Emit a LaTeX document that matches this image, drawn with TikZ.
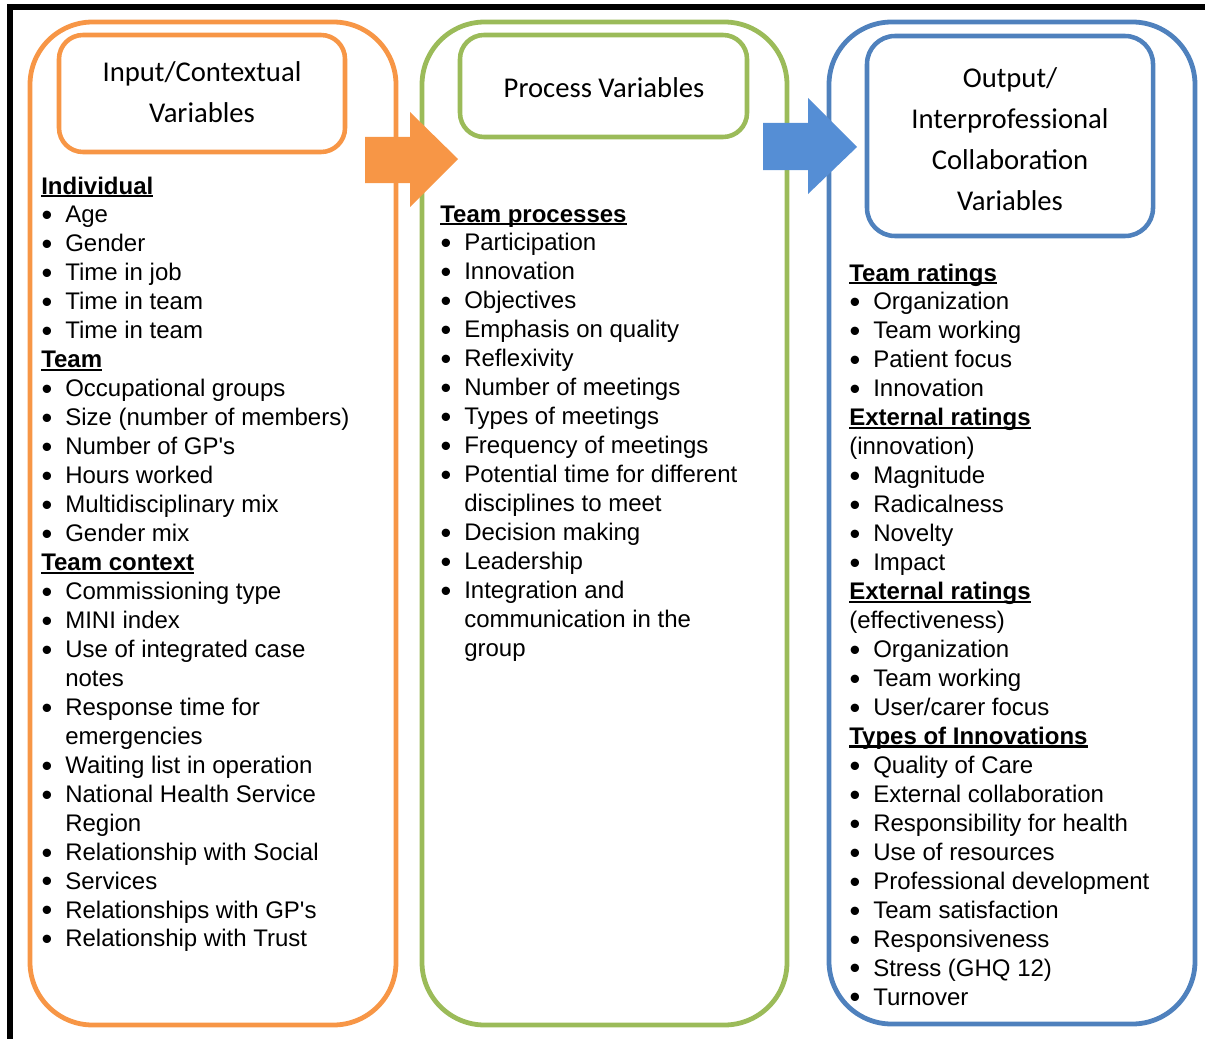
\documentclass[tikz,border=0pt]{standalone}
\usepackage{fontspec}
\setmainfont{Liberation Sans}
\newfontfamily\titlefont{Carlito}

\definecolor{orng}{HTML}{F79646}
\definecolor{grn}{HTML}{9BBB59}
\definecolor{blu}{HTML}{4F81BD}
\definecolor{bluarrow}{HTML}{558ED5}

% list helpers
\newcommand\hdr[1]{\leavevmode\setbox0\hbox{\bfseries #1}\rlap{\rule[-2.4pt]{\wd0}{1.6pt}}\box0}
\newcommand\itm[1]{\leavevmode\makebox[18pt][l]{\hspace*{0.2pt}\raisebox{-2.2pt}{\fontsize{23}{0}\selectfont\textbullet}}#1}
\newcommand\cont[1]{\leavevmode\hspace*{18pt}#1}
\newcommand\ap{\textquotesingle}
\newcommand\listfont{\fontsize{18}{21.72}\selectfont\lineskiplimit=-20pt\parindent=0pt}

\tikzset{
  x=0.75pt, y=-0.75pt,
  outerbox/.style={line width=3.6pt, rounded corners=47pt},
  innerbox/.style={line width=3.4pt, rounded corners=18pt},
  titletext/.style={align=center, inner sep=0pt,
    font=\titlefont\fontsize{21.5}{30.75}\selectfont},
  coltext/.style={anchor=base west, inner sep=0pt},
}

\begin{document}
\begin{tikzpicture}
\useasboundingbox (0,0) rectangle (1205,1038);

% frame
\draw[line width=3.8pt, line join=miter] (10,1040) -- (10,7) -- (1207,7);

% column outlines
\draw[outerbox, orng] (30,22) rectangle (396,1025);
\draw[innerbox, orng] (59,35) rectangle (345,152);
\draw[outerbox, grn] (422,22) rectangle (787,1025);
\draw[innerbox, grn] (460,35) rectangle (747,137);
\draw[outerbox, blu] (829,22) rectangle (1195,1024);
\draw[innerbox, blu, rounded corners=21pt] (867,36) rectangle (1153,236);

% block arrows
\fill[orng] (365,137) -- (410,137) -- (410,112) -- (458,159) -- (410,207)
  -- (410,183) -- (365,183) -- cycle;
\fill[bluarrow] (763,123) -- (808,123) -- (808,98) -- (857,147) -- (808,194)
  -- (808,170) -- (763,170) -- cycle;

% titles
\node[titletext] (tin) at (202,92) {Input/Contextual\\Variables};
\node[titletext] (tproc) at (604,88) {Process Variables};
\node[titletext] (tout) at (1010,139) {Output/\\Interprofessional\\Collaboration\\Variables};

% lists
\node[coltext] (lin) at (41,194) {\parbox[t]{350pt}{\listfont
\hdr{Individual}\\
\itm{Age}\\
\itm{Gender}\\
\itm{Time in job}\\
\itm{Time in team}\\
\itm{Time in team}\\
\hdr{Team}\\
\itm{Occupational groups}\\
\itm{Size (number of members)}\\
\itm{Number of GP\ap s}\\
\itm{Hours worked}\\
\itm{Multidisciplinary mix}\\
\itm{Gender mix}\\
\hdr{Team context}\\
\itm{Commissioning type}\\
\itm{MINI index}\\
\itm{Use of integrated case}\\
\cont{notes}\\
\itm{Response time for}\\
\cont{emergencies}\\
\itm{Waiting list in operation}\\
\itm{National Health Service}\\
\cont{Region}\\
\itm{Relationship with Social}\\
\itm{Services}\\
\itm{Relationships with GP\ap s}\\
\itm{Relationship with Trust}}};

\node[coltext] (lproc) at (440,222) {\parbox[t]{350pt}{\listfont
\hdr{Team processes}\\
\itm{Participation}\\
\itm{Innovation}\\
\itm{Objectives}\\
\itm{Emphasis on quality}\\
\itm{Reflexivity}\\
\itm{Number of meetings}\\
\itm{Types of meetings}\\
\itm{Frequency of meetings}\\
\itm{Potential time for different}\\
\cont{disciplines to meet}\\
\itm{Decision making}\\
\itm{Leadership}\\
\itm{Integration and}\\
\cont{communication in the}\\
\cont{group}}};

\node[coltext] (lout) at (849,281) {\parbox[t]{350pt}{\listfont
\hdr{Team ratings}\\
\itm{Organization}\\
\itm{Team working}\\
\itm{Patient focus}\\
\itm{Innovation}\\
\hdr{External ratings}\\
(innovation)\\
\itm{Magnitude}\\
\itm{Radicalness}\\
\itm{Novelty}\\
\itm{Impact}\\
\hdr{External ratings}\\
(effectiveness)\\
\itm{Organization}\\
\itm{Team working}\\
\itm{User/carer focus}\\
\hdr{Types of Innovations}\\
\itm{Quality of Care}\\
\itm{External collaboration}\\
\itm{Responsibility for health}\\
\itm{Use of resources}\\
\itm{Professional development}\\
\itm{Team satisfaction}\\
\itm{Responsiveness}\\
\itm{Stress (GHQ 12)}\\
\itm{Turnover}}};
\end{tikzpicture}
\end{document}
